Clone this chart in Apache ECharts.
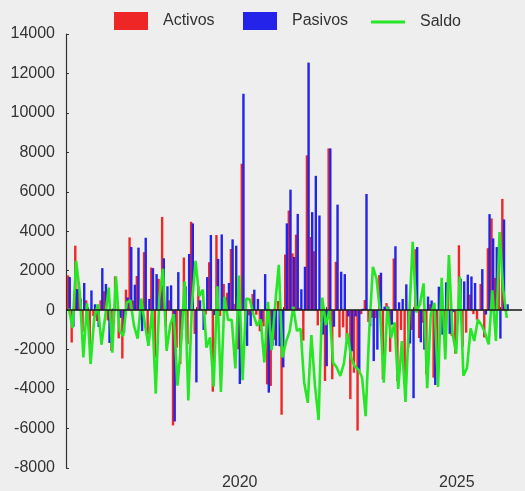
<!DOCTYPE html>
<html><head><meta charset="utf-8">
<script src="https://cdn.jsdelivr.net/npm/echarts@6/dist/echarts.min.js"></script>
<style>html,body{margin:0;padding:0;background:#eeeeee;}#c{width:525px;height:491px;}</style>
</head><body><div id="c"></div>
<script>
// Monthly series starting January 2016
const startYear = 2016, startMonth = 1;
const activos = [1760,-1640,3270,1430,-1090,500,-1730,-300,-550,500,960,-520,
-2070,1710,-1430,-2450,1040,3690,490,1730,-470,2940,-1240,2160,
-2400,1590,4730,-850,500,-5840,-1900,-2730,2670,-1730,4480,-1200,
1210,40,-220,2430,-4130,3810,-300,1330,880,3100,320,-1980,
7420,-1220,-260,820,-230,-1070,-820,-3760,-3840,-1500,470,-5300,
2820,5050,2880,3830,120,-1540,7850,3710,2990,-770,-600,-3590,
8200,-3500,2450,-1380,-870,-1490,-4510,-3170,-6100,-200,520,-600,
-380,-400,1780,-3500,360,-2110,2620,-3590,-1000,-3340,-1910,-1000,
3090,-1410,-640,-3260,300,-3420,-2700,400,-1100,1600,-1300,-2200,
3290,-1860,-1140,790,-200,-480,1330,-1380,3140,4650,1640,2520,
5640,-90];
const pasivos = [1680,-840,1070,590,1380,150,1000,300,-850,2130,1330,-1660,
80,0,-390,-1140,650,3200,1290,3170,-1060,3670,570,2130,
1830,970,2630,1210,1260,-5640,1930,-1000,1210,2850,4400,-3660,
500,-1000,1680,3810,-250,2600,3840,650,1380,3590,3270,-3740,
10970,-1810,-800,1040,570,-600,1830,-4180,-1810,-1800,-1830,-2900,
4400,6110,2700,4880,1060,2200,12550,4970,6810,4800,-1240,-2840,
8200,-840,5350,1950,1830,-320,-2080,-320,-3090,70,5890,-820,
-2580,-2000,1900,180,180,-740,3240,400,570,1310,-1690,-4460,
3200,-1630,-2000,690,490,-3790,1190,-1240,1410,-1200,-100,0,
1590,1460,1800,1710,1380,0,2080,-220,4870,3640,3200,-1440,
4600,300];
const saldo = [80,-900,2500,900,-2400,350,-2730,-400,300,-1750,-370,1140,
-2150,1710,-1040,-1310,390,490,-800,-1440,590,-730,-1810,30,
-4230,620,2100,-2060,-760,-200,-3830,-1730,1460,-4580,300,2500,
710,1040,-1900,-1380,-3880,1210,-4140,680,-500,-490,-2950,1760,
-3550,590,540,-220,-800,-470,-2650,420,-2030,300,2300,-2400,
-1600,-1060,180,-1050,-940,-3650,-4700,-1260,-3820,-5570,640,-750,
0,-2660,-2900,-3330,-2700,-1170,-2430,-2850,-3010,-3400,-5370,-1000,
2200,1600,-120,-3670,180,-1410,-620,-3990,-1570,-4650,-400,3460,
-110,300,1360,-3950,-190,370,-3890,1640,-2500,2800,-1200,-2200,
1700,-3320,-2940,-920,-1560,-480,-750,-1160,-1730,1010,-1560,3960,
1040,-390];
const xTickValues = [2016,2017,2018,2019,2020,2021,2022,2023,2024,2025,2026];
const xLabelValues = [2020, 2025];
const seriesNames = ['Activos','Pasivos','Saldo'];

function xPos(i){ return startYear + (startMonth - 1 + i + 0.8) / 12; }
const redData = activos.map((v,i)=>[xPos(i), v]);
const blueData = pasivos.map((v,i)=>[xPos(i), v]);
const greenData = saldo.map((v,i)=>[xPos(i), v]);

const chart = echarts.init(document.getElementById('c'), null, {renderer:'canvas'});
const font = 'Liberation Sans, Arial, Helvetica, sans-serif';
const legendBase = {
  top: 12, padding: 0, itemWidth: 34, itemHeight: 18,
  textStyle: {fontSize: 16, color: '#333', fontFamily: font, padding: [0,0,0,10]}
};
chart.setOption({
  animation: false,
  backgroundColor: '#eeeeee',
  textStyle: {fontFamily: font},
  legend: [
    Object.assign({}, legendBase, {left: 114, data: [{name: seriesNames[0], icon: 'rect'}]}),
    Object.assign({}, legendBase, {left: 243, data: [{name: seriesNames[1], icon: 'rect'}]}),
    Object.assign({}, legendBase, {left: 371, top: 14, data: [{name: seriesNames[2], icon: 'path://M0,0H34V3H0Z'}]})
  ],
  grid: {left: 66, right: 3, top: 34, bottom: 20, containLabel: false},
  xAxis: {
    type: 'value', min: 2016, max: 2026.5, interval: 1,
    splitLine: {show: false},
    axisLine: {show: true, lineStyle: {color: '#d6d6d6', width: 1.5}},
    axisTick: {show: true, inside: true, length: 3, customValues: xTickValues, lineStyle: {color: '#333', width: 1}},
    axisLabel: {show: true, customValues: xLabelValues, fontSize: 16, color: '#333', margin: 7,
      formatter: v => (xLabelValues.indexOf(v) >= 0 ? String(v) : '')}
  },
  yAxis: {
    type: 'value', min: -8000, max: 14000, interval: 2000,
    splitLine: {show: false},
    axisLine: {show: true, lineStyle: {color: '#333', width: 1.2}},
    axisTick: {show: true, inside: true, length: 3, lineStyle: {color: '#333'}},
    axisLabel: {fontSize: 16, color: '#333', margin: 11, formatter: v => String(v)}
  },
  series: [
    {name: 'Activos', type: 'bar', data: redData, barWidth: 2.4, barGap: '-30%',
      itemStyle: {color: '#ef2626'}},
    {name: 'Pasivos', type: 'bar', data: blueData, barWidth: 2.4, barGap: '-30%',
      itemStyle: {color: '#2323ea'}},
    {name: 'Saldo', type: 'line', data: greenData, symbol: 'none',
      lineStyle: {color: '#27e627', width: 2.6}, itemStyle: {color: '#27e627'}, z: 3,
      markLine: {silent: true, symbol: ['none','none'], label: {show: false},
        lineStyle: {color: '#1a1a1a', width: 1.5, type: 'solid'}, data: [{yAxis: 0}]}}
  ]
});
</script>
</body></html>
